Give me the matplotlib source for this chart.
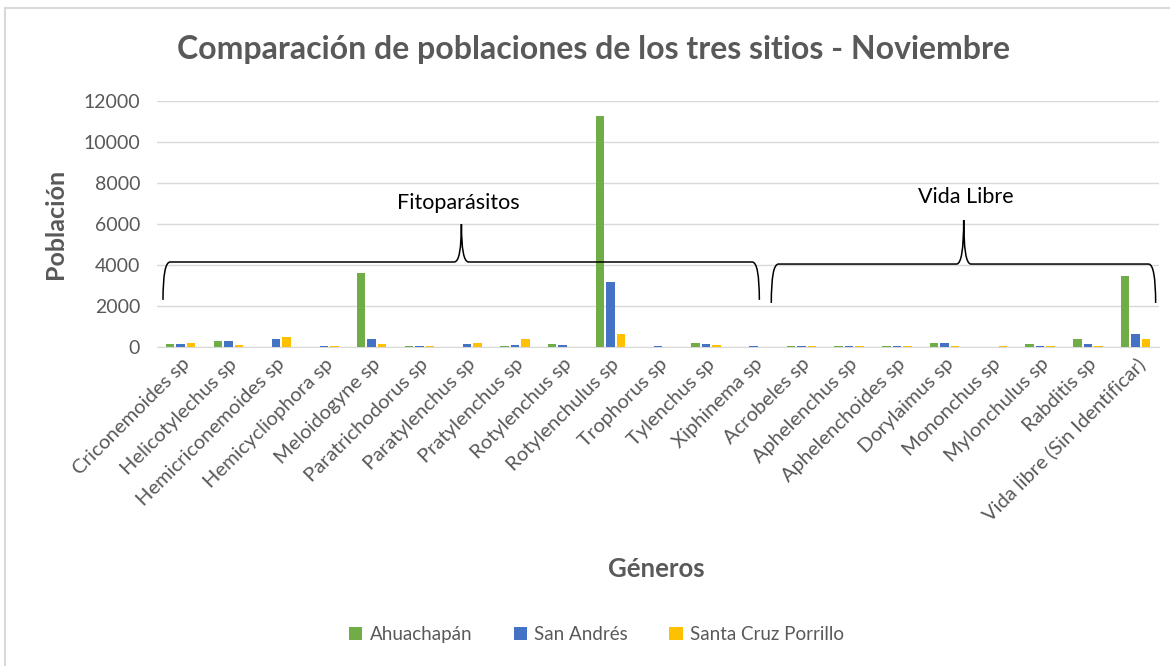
import matplotlib
matplotlib.use("Agg")
import matplotlib.pyplot as plt
from matplotlib.path import Path
from matplotlib.patches import PathPatch, Rectangle
import numpy as np

# ============================================================
# Datos
# ============================================================
generos = [
    "Criconemoides sp", "Helicotylechus sp", "Hemicriconemoides sp",
    "Hemicycliophora sp", "Meloidogyne sp", "Paratrichodorus sp",
    "Paratylenchus sp", "Pratylenchus sp", "Rotylenchus sp",
    "Rotylenchulus sp", "Trophorus sp", "Tylenchus sp", "Xiphinema sp",
    "Acrobeles sp", "Aphelenchus sp", "Aphelenchoides sp", "Dorylaimus sp",
    "Mononchus sp", "Mylonchulus sp", "Rabditis sp", "Vida libre (Sin Identificar)",
]
ahuachapan = [150, 300, 0, 0, 3600, 60, 0, 60, 150, 11300, 0, 200, 0,
              50, 50, 50, 200, 0, 150, 370, 3450]
san_andres = [150, 300, 370, 60, 370, 60, 150, 80, 80, 3150, 60, 150, 60,
              50, 50, 50, 200, 0, 60, 130, 620]
santa_cruz = [200, 80, 470, 60, 150, 60, 200, 370, 0, 620, 0, 80, 0,
              50, 50, 50, 60, 60, 60, 70, 370]

series = ["Ahuachapán", "San Andrés", "Santa Cruz Porrillo"]
colores = ["#70AD47", "#4472C4", "#FFC000"]

GRIS = "#595959"
plt.rcParams["font.family"] = ["Lato", "DejaVu Sans"]

fig = plt.figure(figsize=(11.7, 6.66), dpi=100)
ax = fig.add_axes([0.134, 0.479, 0.857, 0.369])

x = np.arange(len(generos))
ancho = 0.18
paso = 0.22
for i, (vals, nombre, c) in enumerate(zip([ahuachapan, san_andres, santa_cruz], series, colores)):
    ax.bar(x + (i - 1) * paso, vals, width=ancho, color=c, label=nombre, zorder=3)

ax.set_xlim(-0.5, len(generos) - 0.5)
ax.set_ylim(0, 12000)
ax.set_yticks(np.arange(0, 12001, 2000))
ax.grid(axis="y", color="#D9D9D9", linewidth=1, zorder=0)
for s in ["top", "right", "left"]:
    ax.spines[s].set_visible(False)
ax.spines["bottom"].set_color("#D9D9D9")
ax.tick_params(axis="both", length=0, colors=GRIS)
ax.tick_params(axis="y", pad=12, labelsize=14)
ax.tick_params(axis="x", pad=6, labelsize=14.5)
ax.set_xticks(x)
ax.set_xticklabels(generos, rotation=45, ha="right", rotation_mode="anchor")

ax.set_ylabel("Población", fontsize=18, fontweight="bold", color=GRIS, labelpad=12)
fig.text(0.561, 0.145, "Géneros", fontsize=18.5, fontweight="bold", color=GRIS, ha="center", va="center")
fig.text(0.507, 0.925, "Comparación de poblaciones de los tres sitios - Noviembre",
         fontsize=23, fontweight="bold", color=GRIS, ha="center", va="center")

# Llaves (agrupación)
def llave(x0, xm, x1, yb, yh, yt):
    dx = 0.15
    verts = [(x0, yb), (x0, yh), (x0 + dx, yh),
             (xm - dx, yh), (xm, yh), (xm, yt),
             (xm, yh), (xm + dx, yh),
             (x1 - dx, yh), (x1, yh), (x1, yb)]
    codes = [Path.MOVETO, Path.CURVE3, Path.CURVE3,
             Path.LINETO, Path.CURVE3, Path.CURVE3,
             Path.CURVE3, Path.CURVE3,
             Path.LINETO, Path.CURVE3, Path.CURVE3]
    ax.add_patch(PathPatch(Path(verts, codes), fill=False, lw=1.1, ec="black",
                           clip_on=False, zorder=4))

llave(-0.37, 5.88, 12.12, 2300, 4150, 6000)
llave(12.37, 16.40, 20.42, 2150, 4050, 6200)
ax.text(5.82, 7050, "Fitoparásitos", fontsize=15.5, color="black", ha="center", va="center")
ax.text(16.45, 7300, "Vida Libre", fontsize=15.5, color="black", ha="center", va="center")

fig.legend(loc="center", bbox_to_anchor=(0.51, 0.047), ncol=3, frameon=False,
           fontsize=13.5, labelcolor=GRIS, handlelength=0.7, handleheight=0.7,
           handletextpad=0.4, columnspacing=2.2)

fig.patches.append(Rectangle((0.004, -0.01), 1.0, 0.998, transform=fig.transFigure,
                             fill=False, ec="#D9D9D9", lw=1.5))

fig.savefig("out.png", dpi=100)
